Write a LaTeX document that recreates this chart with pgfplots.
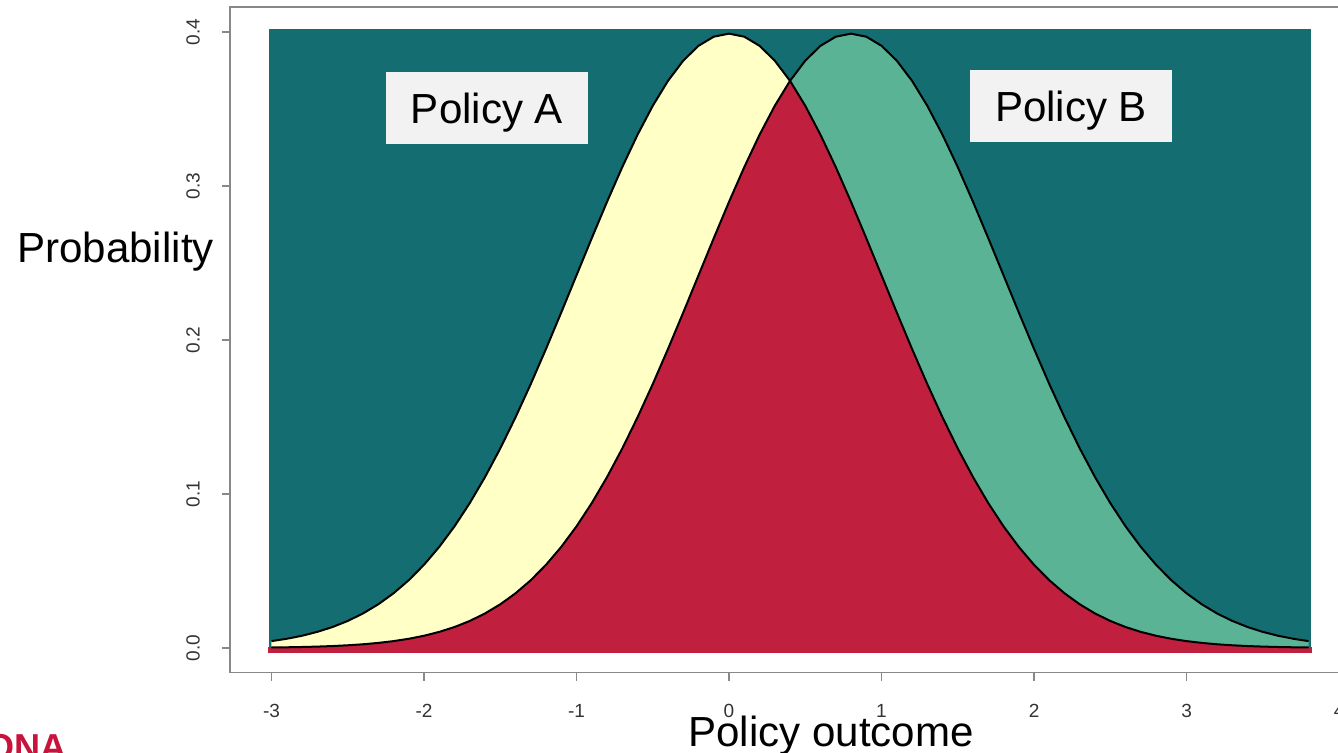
\documentclass[border=0pt]{standalone}
\usepackage{fontspec}
\setmainfont{Liberation Sans}
\usepackage{pgfplots}
\pgfplotsset{compat=1.18}
\usepackage{pgfplotstable}
\definecolor{teal1}{HTML}{146D70}
\definecolor{yel}{HTML}{FFFFC6}
\definecolor{grn}{HTML}{5BB396}
\definecolor{rd}{HTML}{C0203E}
\definecolor{boxg}{HTML}{F2F2F2}
\definecolor{axg}{HTML}{888888}
\definecolor{logo}{HTML}{C8143C}

% x, density of Policy A, density of Policy B, overlap (min)
\pgfplotstableread{
x a b m
-3.0 0.00443 0.00029 0.00029
-2.9 0.00595 0.00042 0.00042
-2.8 0.00792 0.00061 0.00061
-2.7 0.01042 0.00087 0.00087
-2.6 0.01358 0.00123 0.00123
-2.5 0.01753 0.00172 0.00172
-2.4 0.02239 0.00238 0.00238
-2.3 0.02833 0.00327 0.00327
-2.2 0.03547 0.00443 0.00443
-2.1 0.04398 0.00595 0.00595
-2.0 0.05399 0.00792 0.00792
-1.9 0.06562 0.01042 0.01042
-1.8 0.07895 0.01358 0.01358
-1.7 0.09405 0.01753 0.01753
-1.6 0.11092 0.02239 0.02239
-1.5 0.12952 0.02833 0.02833
-1.4 0.14973 0.03547 0.03547
-1.3 0.17137 0.04398 0.04398
-1.2 0.19419 0.05399 0.05399
-1.1 0.21785 0.06562 0.06562
-1.0 0.24197 0.07895 0.07895
-0.9 0.26609 0.09405 0.09405
-0.8 0.28969 0.11092 0.11092
-0.7 0.31225 0.12952 0.12952
-0.6 0.33322 0.14973 0.14973
-0.5 0.35207 0.17137 0.17137
-0.4 0.36827 0.19419 0.19419
-0.3 0.38139 0.21785 0.21785
-0.2 0.39104 0.24197 0.24197
-0.1 0.39695 0.26609 0.26609
0.0 0.39894 0.28969 0.28969
0.1 0.39695 0.31225 0.31225
0.2 0.39104 0.33322 0.33322
0.3 0.38139 0.35207 0.35207
0.4 0.36827 0.36827 0.36827
0.5 0.35207 0.38139 0.35207
0.6 0.33322 0.39104 0.33322
0.7 0.31225 0.39695 0.31225
0.8 0.28969 0.39894 0.28969
0.9 0.26609 0.39695 0.26609
1.0 0.24197 0.39104 0.24197
1.1 0.21785 0.38139 0.21785
1.2 0.19419 0.36827 0.19419
1.3 0.17137 0.35207 0.17137
1.4 0.14973 0.33322 0.14973
1.5 0.12952 0.31225 0.12952
1.6 0.11092 0.28969 0.11092
1.7 0.09405 0.26609 0.09405
1.8 0.07895 0.24197 0.07895
1.9 0.06562 0.21785 0.06562
2.0 0.05399 0.19419 0.05399
2.1 0.04398 0.17137 0.04398
2.2 0.03547 0.14973 0.03547
2.3 0.02833 0.12952 0.02833
2.4 0.02239 0.11092 0.02239
2.5 0.01753 0.09405 0.01753
2.6 0.01358 0.07895 0.01358
2.7 0.01042 0.06562 0.01042
2.8 0.00792 0.05399 0.00792
2.9 0.00595 0.04398 0.00595
3.0 0.00443 0.03547 0.00443
3.1 0.00327 0.02833 0.00327
3.2 0.00238 0.02239 0.00238
3.3 0.00172 0.01753 0.00172
3.4 0.00123 0.01358 0.00123
3.5 0.00087 0.01042 0.00087
3.6 0.00061 0.00792 0.00061
3.7 0.00042 0.00595 0.00042
3.8 0.00029 0.00443 0.00029
}\dens

\begin{document}
\begin{tikzpicture}
\begin{axis}[
  scale only axis, width=559pt, height=332pt,
  xmin=-3.272, xmax=4.072, ymin=-0.016, ymax=0.416,
  axis line style={axg, line width=0.9pt},
  tick style={axg, line width=0.8pt},
  tick align=outside, major tick length=4pt,
  tick pos=left,
  xtick={-3,-2,-1,0,1,2,3,4}, xticklabels={-3,-2,-1,0,1,2,3,4},
  ytick={0,0.1,0.2,0.3,0.4}, yticklabels={0.0,0.1,0.2,0.3,0.4},
  ticklabel style={font=\fontsize{9.5}{10}\selectfont, text=black!80},
  yticklabel style={rotate=90, anchor=south},
  xticklabel shift=8.5pt,
  yticklabel shift=7.5pt,
  clip=false,
]
% background of scattered points
\addplot[fill=teal1, draw=teal1, line width=2.5pt] coordinates {(-3,0) (-3,0.4) (3.8,0.4) (3.8,0)} -- cycle;
% under Policy A
\addplot[fill=yel, draw=none] table[x=x, y=a] {\dens} \closedcycle;
% under Policy B
\addplot[fill=grn, draw=none] table[x=x, y=b] {\dens} \closedcycle;
% overlap
\addplot[fill=rd, draw=none] table[x=x, y=m] {\dens} \closedcycle;
\addplot[fill=rd, draw=none] coordinates {(-3.02,0.0005) (-3.02,-0.0032) (3.82,-0.0032) (3.82,0.0005)} -- cycle;
% density curves
\addplot[black, line width=1pt] table[x=x, y=a] {\dens};
\addplot[black, line width=1pt] table[x=x, y=b] {\dens};

\node[fill=boxg, minimum width=101pt, minimum height=36pt, inner sep=0pt,
  text height=15pt, text depth=0pt, font=\fontsize{21}{25}\selectfont]
  at (axis cs:-1.587,0.3506) {Policy A};
\node[fill=boxg, minimum width=101pt, minimum height=36pt, inner sep=0pt,
  text height=15pt, text depth=0pt, font=\fontsize{21}{25}\selectfont]
  at (axis cs:2.243,0.3519) {Policy B};
\node[anchor=west, inner sep=0pt, text height=15pt, text depth=0pt,
  font=\fontsize{21}{25}\selectfont] at (axis cs:-4.669,0.2601) {Probability};
\node[anchor=west, inner sep=0pt, text height=15pt, text depth=0pt,
  font=\fontsize{21}{25}\selectfont] at (axis cs:-0.269,-0.05455) {Policy outcome};
\node[anchor=base east, inner sep=0pt, text=logo,
  font=\fontsize{18}{20}\selectfont\bfseries] at (axis cs:-4.341,-0.0727) {ONA};

\coordinate (bl) at (axis cs:-4.780,-0.06818);
\coordinate (tr) at (axis cs:3.993,0.42078);
\end{axis}
\pgfresetboundingbox
\useasboundingbox (bl) rectangle (tr);
\end{tikzpicture}
\end{document}
